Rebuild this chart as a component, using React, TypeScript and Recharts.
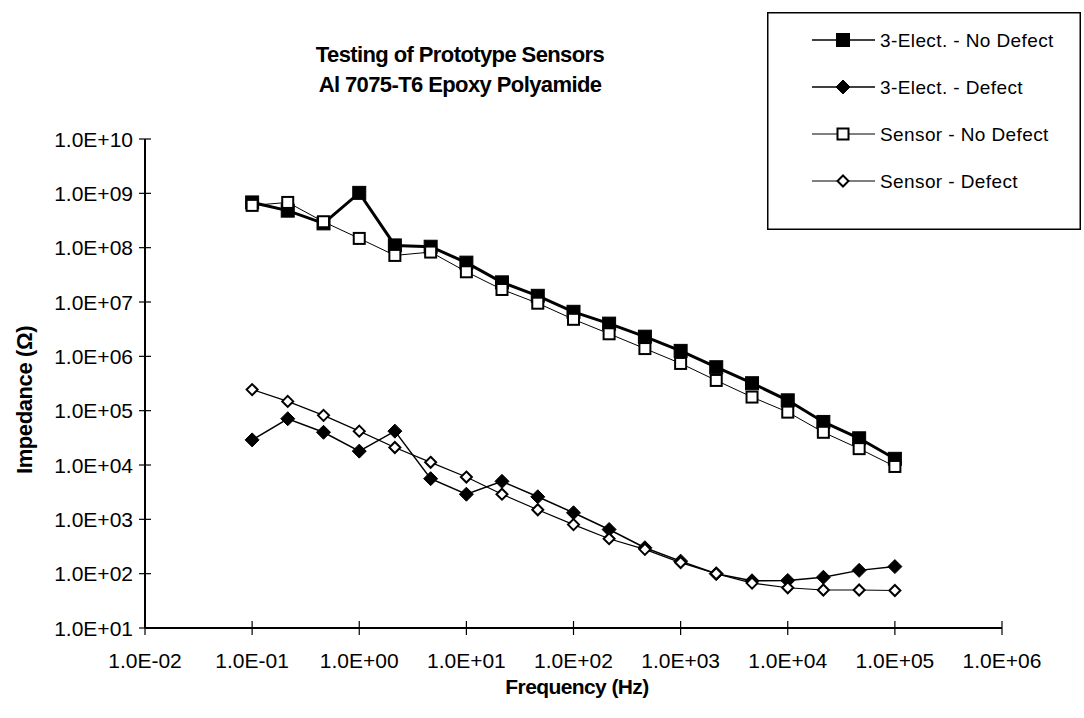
import React from 'react';
import { LineChart, Line, XAxis, YAxis, Legend } from 'recharts';

// frequency (Hz), 3 points per decade
const frequencies = [0.1, 0.215, 0.464, 1, 2.15, 4.64, 10, 21.5, 46.4, 100, 215, 464, 1000, 2150, 4640, 10000, 21500, 46400, 100000];

// impedance (ohm)
const elecNoDefect = [6.8e8, 4.8e8, 2.8e8, 1.02e9, 1.1e8, 1.04e8, 5.3e7, 2.3e7, 1.3e7, 6.6e6, 4.0e6, 2.3e6, 1.26e6, 6.3e5, 3.2e5, 1.55e5, 6.2e4, 3.1e4, 1.3e4];
const elecDefect = [2.9e4, 7.1e4, 4.0e4, 1.8e4, 4.2e4, 5.6e3, 2.9e3, 5.0e3, 2.6e3, 1.32e3, 6.5e2, 3.0e2, 1.7e2, 1.0e2, 7.4e1, 7.5e1, 8.6e1, 1.15e2, 1.35e2];
const sensorNoDefect = [6.0e8, 6.8e8, 3.0e8, 1.48e8, 7.2e7, 8.3e7, 3.6e7, 1.7e7, 9.5e6, 4.8e6, 2.6e6, 1.39e6, 7.4e5, 3.6e5, 1.78e5, 9.4e4, 4.0e4, 2.0e4, 9.4e3];
const sensorDefect = [2.44e5, 1.48e5, 8.2e4, 4.2e4, 2.1e4, 1.12e4, 6.0e3, 2.9e3, 1.5e3, 8.0e2, 4.4e2, 2.8e2, 1.6e2, 1.0e2, 6.7e1, 5.5e1, 5.0e1, 5.0e1, 4.9e1];

const xTicks = [1e-2, 1e-1, 1e0, 1e1, 1e2, 1e3, 1e4, 1e5, 1e6];
const yTicks = [1e1, 1e2, 1e3, 1e4, 1e5, 1e6, 1e7, 1e8, 1e9, 1e10];

const FONT = '"Liberation Sans", Arial, sans-serif';

type Marker = 'square' | 'diamond';

const series = [
  { key: 'elecNoDefect', name: '3-Elect. - No Defect', marker: 'square' as Marker, filled: true, width: 3 },
  { key: 'elecDefect', name: '3-Elect. - Defect', marker: 'diamond' as Marker, filled: true, width: 1.5 },
  { key: 'sensorNoDefect', name: 'Sensor - No Defect', marker: 'square' as Marker, filled: false, width: 1 },
  { key: 'sensorDefect', name: 'Sensor - Defect', marker: 'diamond' as Marker, filled: false, width: 1.2 },
];

const data = frequencies.map((f, i) => ({
  f,
  elecNoDefect: elecNoDefect[i],
  elecDefect: elecDefect[i],
  sensorNoDefect: sensorNoDefect[i],
  sensorDefect: sensorDefect[i],
}));

const sci = (v: number) => {
  const e = Math.round(Math.log10(v));
  return `1.0E${e < 0 ? '-' : '+'}${String(Math.abs(e)).padStart(2, '0')}`;
};

const drawMarker = (marker: Marker, filled: boolean, cx: number, cy: number, key?: any) => {
  if (marker === 'square') {
    const s = filled ? 6.5 : 5.5;
    return (
      <rect key={key} x={cx - s} y={cy - s} width={s * 2} height={s * 2}
        fill={filled ? '#000' : '#fff'} stroke="#000" strokeWidth={filled ? 1 : 2} />
    );
  }
  const s = filled ? 7 : 5.5;
  return (
    <polygon key={key} points={`${cx},${cy - s} ${cx + s},${cy} ${cx},${cy + s} ${cx - s},${cy}`}
      fill={filled ? '#000' : '#fff'} stroke="#000" strokeWidth={filled ? 1 : 2} />
  );
};

const YTick = (props: any) => {
  const { x, y, payload } = props;
  return (
    <g>
      <line x1={x - 6} x2={x + 6} y1={y} y2={y} stroke="#000" strokeWidth={1.2} />
      <text x={x - 12} y={y + 7.5} textAnchor="end" fontSize={21} fontFamily={FONT} fill="#000">
        {sci(payload.value)}
      </text>
    </g>
  );
};

const XTick = (props: any) => {
  const { x, y, payload } = props;
  return (
    <g>
      <line x1={x} x2={x} y1={y - 7} y2={y + 7} stroke="#000" strokeWidth={1.2} />
      <text x={x} y={y + 40} textAnchor="middle" fontSize={21} fontFamily={FONT} fill="#000">
        {sci(payload.value)}
      </text>
    </g>
  );
};

const LegendBox = () => (
  <svg width={314} height={218} style={{ display: 'block' }}>
    <rect x={0.75} y={0.75} width={312.5} height={216.5} fill="#fff" stroke="#000" strokeWidth={1.5} />
    {series.map((s, i) => {
      const cy = 28 + i * 47;
      return (
        <g key={s.key}>
          <line x1={45} x2={108} y1={cy} y2={cy} stroke="#000" strokeWidth={Math.min(s.width, 1.5)} />
          {drawMarker(s.marker, s.filled, 76, cy)}
          <text x={113} y={cy + 7} fontSize={19} letterSpacing={0.4} fontFamily={FONT} fill="#000">{s.name}</text>
        </g>
      );
    })}
  </svg>
);

export default function App() {
  return (
    <div style={{ position: 'absolute', left: 0, top: 0, width: 1084, height: 718, background: '#fff' }}>
      <LineChart width={1084} height={718} data={data} margin={{ top: 139, right: 82, bottom: 60, left: 0 }}>
        <XAxis dataKey="f" type="number" scale="log" domain={[1e-2, 1e6]} ticks={xTicks}
          allowDataOverflow height={30} tickSize={0} tickMargin={0} tickLine={false}
          axisLine={{ stroke: '#000', strokeWidth: 2 }} tick={<XTick />} interval={0} />
        <XAxis xAxisId="top" dataKey="f" type="number" scale="log" domain={[1e-2, 1e6]} orientation="top"
          allowDataOverflow height={0} tick={false} tickLine={false} axisLine={{ stroke: '#000', strokeWidth: 1.5 }} />
        <YAxis type="number" scale="log" domain={[1e1, 1e10]} ticks={yTicks} allowDataOverflow
          width={145} tickSize={0} tickMargin={0} tickLine={false}
          axisLine={{ stroke: '#000', strokeWidth: 2 }} tick={<YTick />} interval={0} />
        <YAxis yAxisId="right" type="number" scale="log" domain={[1e1, 1e10]} orientation="right"
          allowDataOverflow width={0} tick={false} tickLine={false} axisLine={{ stroke: '#000', strokeWidth: 1.2 }} />
        {series.map((s) => (
          <Line key={s.key} dataKey={s.key} name={s.name} stroke="#000" strokeWidth={s.width}
            isAnimationActive={false} type="linear"
            dot={(p: any) => drawMarker(s.marker, s.filled, p.cx, p.cy, `${s.key}-${p.index}`)}
            activeDot={false} />
        ))}
        <Legend layout="vertical" align="center" verticalAlign="middle"
          wrapperStyle={{ left: 767, top: 12, width: 314, height: 218 }}
          content={() => <LegendBox />} />
      </LineChart>
      <svg width={1084} height={718} style={{ position: 'absolute', left: 0, top: 0, pointerEvents: 'none' }}>
        <text x={460} y={62} textAnchor="middle" fontSize={22} fontWeight="bold" fontFamily={FONT} letterSpacing={-0.6}>
          Testing of Prototype Sensors
        </text>
        <text x={460} y={92} textAnchor="middle" fontSize={22} fontWeight="bold" fontFamily={FONT} letterSpacing={-0.6}>
          Al 7075-T6 Epoxy Polyamide
        </text>
        <text x={577} y={694} textAnchor="middle" fontSize={21} fontWeight="bold" fontFamily={FONT} letterSpacing={-0.6}>
          Frequency (Hz)
        </text>
        <text transform="translate(32, 400) rotate(-90)" textAnchor="middle" fontSize={22} fontWeight="bold" fontFamily={FONT} letterSpacing={-0.4}>
          Impedance (Ω)
        </text>
      </svg>
    </div>
  );
}
